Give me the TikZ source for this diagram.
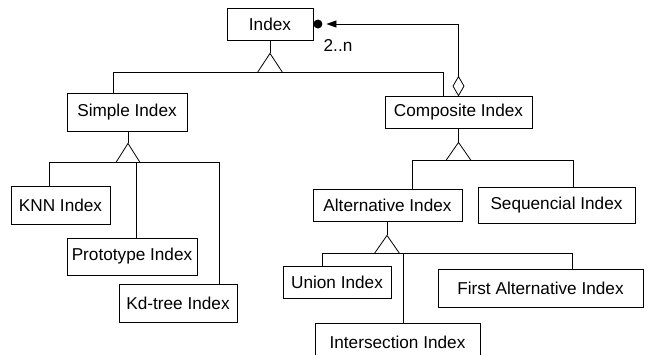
\documentclass[tikz,border=0pt]{standalone}
\usepackage{fontspec}
\setmainfont{Liberation Sans}
\usetikzlibrary{arrows.meta}
\begin{document}
\begin{tikzpicture}[x=1pt,y=-1pt,
  cls/.style={draw, line width=0.8pt, inner sep=0pt, font=\fontsize{17.2}{20}\selectfont},
  ln/.style={line width=0.8pt},
  gen/.style={line width=0.8pt, fill=white},
  lbl/.style={inner sep=0pt, font=\fontsize{17.2}{20}\selectfont}
]
\clip (0,0) rectangle (648,354);
% classes
\node[cls, minimum width=86, minimum height=32] (index) at (270,24) {Index};
\node[cls, minimum width=120, minimum height=38] (simple) at (127,112) {Simple Index};
\node[cls, minimum width=99, minimum height=38] (knn) at (60.5,205) {KNN Index};
\node[cls, minimum width=130, minimum height=37] (proto) at (132,256.5) {Prototype Index};
\node[cls, minimum width=118, minimum height=38] (kd) at (178,303) {Kd-tree Index};
\node[cls, minimum width=147, minimum height=32] (composite) at (458.5,112) {Composite Index};
\node[cls, minimum width=149, minimum height=32] (alt) at (387.5,205) {Alternative Index};
\node[cls, minimum width=157, minimum height=36] (seq) at (556.5,205) {Sequencial Index};
\node[cls, minimum width=108, minimum height=32] (union) at (337,282) {Union Index};
\node[cls, minimum width=205, minimum height=38] (first) at (540.5,288) {First Alternative Index};
\node[cls, minimum width=165, minimum height=38] (inter) at (397.5,342) {Intersection Index};
\node[lbl] (mult) at (338,45) {2..n};

% Index generalization
\draw[ln] (index.south) -- ++(0,13) coordinate (ia);
\coordinate (ib) at ([yshift=-19pt]ia);
\draw[ln] ([xshift=-14pt]simple.north) |- (ib) -| ([xshift=-15.5pt]composite.north);
\draw[gen] (ia) -- ++(-12.5,19) -- ++(25,0) -- cycle;

% Simple generalization
\draw[ln] (simple.south) ++(1,0) -- ++(0,12) coordinate (sa);
\coordinate (sb) at ([yshift=-19pt]sa);
\draw[ln] ([xshift=-11.5pt]knn.north) |- (sb) -| ([xshift=41pt]kd.north);
\draw[ln] ([xshift=4pt]proto.north) -- ([xshift=4pt]proto.north |- sb);
\draw[gen] (sa) -- ++(-12,19) -- ++(24,0) -- cycle;

% Composite generalization
\draw[ln] (composite.south) -- ++(0,14) coordinate (ca);
\coordinate (cb) at ([yshift=-18pt]ca);
\draw[ln] ([xshift=24.5pt]alt.north) |- (cb) -| ([xshift=16.5pt]seq.north);
\draw[gen] (ca) -- ++(-12.5,18) -- ++(25,0) -- cycle;

% Alternative generalization
\draw[ln] (alt.south) ++(-0.5,0) -- ++(0,14) coordinate (aa);
\coordinate (ab) at ([yshift=-18pt]aa);
\draw[ln] ([xshift=-15pt]union.north) |- (ab) -| ([xshift=31.5pt]first.north);
\draw[ln] ([xshift=5.5pt]inter.north) -- ([xshift=5.5pt]inter.north |- ab);
\draw[gen] (aa) -- ++(-12.5,18) -- ++(25,0) -- cycle;

% aggregation Composite -> Index
\draw[gen] (composite.north) -- ++(-5.5,-9.5) -- ++(5.5,-9.5) coordinate (dtop) -- ++(5.5,9.5) -- cycle;
\draw[ln,-{Triangle[length=10pt,width=7pt]}] (dtop) |- ([xshift=13pt]index.east);
\fill ([xshift=4.5pt]index.east) circle (4.5pt);
\end{tikzpicture}
\end{document}
